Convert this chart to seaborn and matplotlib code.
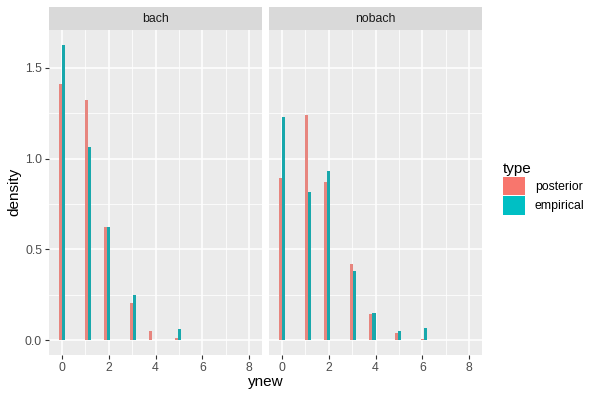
import numpy as np
import pandas as pd
import matplotlib
matplotlib.use("Agg")
import matplotlib.pyplot as plt
from matplotlib.patches import Patch
from matplotlib.ticker import MultipleLocator
import seaborn as sns

# ---- data ----
binwidth = 8 / 29
facets = ["bach", "nobach"]
types = ["posterior", "empirical"]
colors = ["#F8766D", "#00BFC4"]

bach_bins = [0, 4, 7, 11, 14, 18]
bach_posterior = [1.412, 1.324, 0.623, 0.204, 0.050, 0.011]
bach_empirical = [1.627, 1.065, 0.623, 0.248, 0.000, 0.060]

nobach_bins = [0, 4, 7, 11, 14, 18, 22]
nobach_posterior = [0.894, 1.241, 0.871, 0.419, 0.143, 0.039, 0.005]
nobach_empirical = [1.230, 0.816, 0.932, 0.380, 0.149, 0.050, 0.066]

x_ticks = [0, 2, 4, 6, 8]
y_ticks = [0.0, 0.5, 1.0, 1.5]


def make_df(bins, post, emp):
    centers = [b * binwidth for b in bins]
    return pd.DataFrame({
        "ynew": centers * 2,
        "density": list(post) + list(emp),
        "type": ["posterior"] * len(bins) + ["empirical"] * len(bins),
    })


dfs = {
    "bach": make_df(bach_bins, bach_posterior, bach_empirical),
    "nobach": make_df(nobach_bins, nobach_posterior, nobach_empirical),
}

plt.rcParams["font.family"] = ["Liberation Sans", "DejaVu Sans"]
fig = plt.figure(figsize=(6, 4), dpi=100)

W, H = 600, 400
panel_top, panel_bot = 30, 355
strip_top = 7
lefts = [49, 269]
pw = 213

xlim = (-binwidth / 2 - 0.05 * (8 + binwidth), 8 + binwidth / 2 + 0.05 * (8 + binwidth))
ymax = max(bach_empirical + bach_posterior + nobach_empirical + nobach_posterior)
ylim = (-0.05 * ymax, ymax * 1.05)

for i, (facet, left) in enumerate(zip(facets, lefts)):
    ax = fig.add_axes([left / W, 1 - panel_bot / H, pw / W, (panel_bot - panel_top) / H])
    ax.set_facecolor("#EBEBEB")
    df = dfs[facet]
    sns.barplot(data=df, x="ynew", y="density", hue="type", hue_order=types,
                palette=colors, native_scale=True, dodge=True, width=1 / 3,
                errorbar=None, linewidth=0, legend=False, ax=ax)
    ax.set_xlim(*xlim)
    ax.set_ylim(*ylim)
    ax.set_xticks(x_ticks)
    ax.set_yticks(y_ticks)
    ax.xaxis.set_minor_locator(MultipleLocator(1))
    ax.yaxis.set_minor_locator(MultipleLocator(0.25))
    ax.grid(which="major", color="white", linewidth=1.1)
    ax.grid(which="minor", color="white", linewidth=0.55)
    ax.set_axisbelow(True)
    for s in ax.spines.values():
        s.set_visible(False)
    ax.tick_params(which="major", length=3, width=0.8, color="#333333",
                   labelsize=8.8, labelcolor="#4D4D4D", pad=2)
    ax.tick_params(which="minor", length=0)
    ax.set_xticklabels([str(t) for t in x_ticks])
    if i == 0:
        ax.set_yticklabels([f"{t:.1f}" for t in y_ticks])
    else:
        ax.tick_params(axis="y", which="both", left=False, labelleft=False)
    ax.set_xlabel("")
    ax.set_ylabel("")

    sax = fig.add_axes([left / W, 1 - panel_top / H, pw / W, (panel_top - strip_top) / H])
    sax.set_facecolor("#D9D9D9")
    sax.set_xticks([])
    sax.set_yticks([])
    for s in sax.spines.values():
        s.set_visible(False)
    sax.text(0.5, 0.5, facet, ha="center", va="center", fontsize=8.8,
             color="#1A1A1A", transform=sax.transAxes)

fig.text((49 + 482) / 2 / W, 1 - 382 / H, "ynew", ha="center", va="center",
         fontsize=11, color="black")
fig.text(14 / W, 1 - 192 / H, "density", ha="center", va="center",
         fontsize=11, color="black", rotation=90)

handles = [Patch(facecolor=c, edgecolor="none", label=t) for c, t in zip(colors, types)]
leg = fig.legend(handles=handles, title="type", loc="upper left",
                 bbox_to_anchor=(503 / W, 1 - 162 / H), frameon=False,
                 fontsize=8.8, title_fontsize=11, handlelength=1.8,
                 handleheight=2.0, handletextpad=0.8, labelspacing=0.05,
                 borderaxespad=0, borderpad=0, alignment="left")

fig.savefig("out.png", dpi=100)
